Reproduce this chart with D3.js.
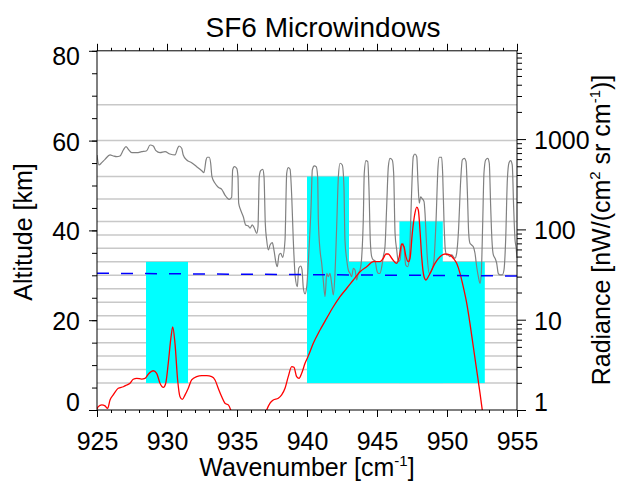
<!DOCTYPE html>
<html>
<head>
<meta charset="utf-8">
<script src="https://cdn.jsdelivr.net/npm/d3@7"></script>
<style>
  body { margin: 0; background: #fff; }
  svg { display: block; font-family: "Liberation Sans", Arial, Helvetica, sans-serif; }
</style>
</head>
<body>
<div id="chart"></div>
<script>
// retrieval altitude grid (km)
var gridAlt = [6, 9, 12, 15, 18, 21, 24, 27, 30, 33, 36, 39, 42, 47, 52, 60, 68];

// microwindows: wavenumber range and altitude range
var winStart = [928.5, 940.0, 943.0, 946.6];
var winEnd = [931.5, 943.0, 952.7, 949.7];
var winBottom = [6, 6, 6, 6];
var winTop = [33, 52, 33, 42];

// dashed line (altitude)
var dashWn = [925, 955];
var dashAlt = [30.45, 29.85];

// total radiance spectrum (grey)
var grayWn = [925.0, 925.14, 925.34, 925.57, 925.93, 926.16, 926.41, 926.64, 926.88, 927.07,
  927.24, 927.48, 927.84, 928.19, 928.55, 928.79, 929.02, 929.21, 929.5, 929.86,
  930.21, 930.57, 930.76, 930.86, 931.05, 931.16, 931.41, 931.76, 932.12, 932.48,
  932.64, 932.79, 932.88, 933.02, 933.12, 933.21, 933.43, 933.66, 933.91, 934.14,
  934.45, 934.62, 934.69, 934.81, 934.98, 935.07, 935.12, 935.26, 935.45, 935.62,
  935.81, 935.93, 936.09, 936.24, 936.41, 936.5, 936.59, 936.69, 936.84, 936.93,
  937.02, 937.12, 937.24, 937.36, 937.52, 937.64, 937.79, 937.88, 938.0, 938.12,
  938.26, 938.43, 938.55, 938.66, 938.79, 938.91, 939.02, 939.16, 939.31, 939.41,
  939.55, 939.64, 939.74, 939.86, 939.98, 940.14, 940.29, 940.38, 940.52, 940.66,
  940.76, 940.81, 940.93, 941.05, 941.16, 941.29, 941.41, 941.52, 941.64, 941.76,
  941.88, 942.0, 942.12, 942.24, 942.36, 942.52, 942.64, 942.71, 942.84, 942.95,
  943.07, 943.19, 943.31, 943.43, 943.55, 943.66, 943.79, 943.91, 944.02, 944.09,
  944.21, 944.34, 944.43, 944.52, 944.62, 944.74, 944.86, 944.98, 945.09, 945.21,
  945.34, 945.45, 945.57, 945.69, 945.81, 945.93, 946.09, 946.19, 946.29, 946.41,
  946.52, 946.64, 946.76, 946.86, 946.95, 947.05, 947.19, 947.31, 947.38, 947.47,
  947.59, 947.71, 947.84, 947.93, 948.02, 948.12, 948.21, 948.36, 948.43, 948.5,
  948.59, 948.74, 948.91, 949.07, 949.21, 949.36, 949.45, 949.62, 949.69, 949.79,
  949.88, 949.98, 950.09, 950.21, 950.34, 950.45, 950.57, 950.69, 950.81, 950.98,
  951.09, 951.24, 951.36, 951.45, 951.55, 951.64, 951.76, 951.88, 952.0, 952.12,
  952.24, 952.36, 952.45, 952.55, 952.64, 952.76, 952.91, 953.02, 953.12, 953.21,
  953.31, 953.43, 953.55, 953.66, 953.79, 953.95, 954.07, 954.19, 954.31, 954.43,
  954.55, 954.66, 954.76, 954.86, 954.93, 955.0];
var grayRad = [667, 517, 548, 597, 667, 650, 638, 650, 757, 824,
  771, 707, 707, 725, 744, 860, 839, 744, 707, 725,
  684, 667, 791, 839, 791, 667, 587, 548, 495, 447,
  425, 587, 629, 629, 540, 383, 324, 293, 278, 240,
  215, 227, 455, 495, 475, 383, 195, 164, 138, 112,
  109, 103, 112, 103, 90.5, 107, 383, 447, 463, 383,
  117, 76.3, 59.1, 67.2, 71.2, 59.1, 42.1, 38.6, 52.1, 54.4,
  49.1, 76.3, 418, 482, 463, 230, 76.3, 29.9, 23.2, 37.1,
  39.3, 36.1, 22.3, 19.3, 23.2, 59.1, 178, 455, 504, 495,
  383, 127, 59.1, 42.1, 27.5, 18.0, 32.6, 29.9, 32.6, 25.3,
  18.8, 32.6, 107, 383, 540, 517, 297, 76.3, 45.8, 35.5,
  32.6, 29.9, 37.1, 35.5, 27.5, 32.6, 35.5, 49.9, 127, 418,
  577, 562, 273, 76.3, 49.9, 45.8, 45.0, 35.5, 32.6, 32.6,
  38.6, 49.9, 64.3, 178, 495, 613, 587, 418, 90.5, 59.1,
  43.9, 45.8, 64.3, 70.2, 59.1, 40.3, 38.6, 47.9, 90, 250,
  638, 684, 638, 324, 195, 230, 221, 203, 151, 90.5,
  49.9, 32.6, 35.5, 45.8, 117, 495, 629, 629, 418, 117,
  59.1, 52.1, 52.1, 49.9, 52.1, 49.9, 47.9, 54.4, 90.5, 352,
  587, 613, 562, 273, 90.5, 70.2, 67.2, 64.3, 54.4, 38.6,
  29.9, 25.3, 32.6, 117, 418, 587, 613, 540, 178, 76.3,
  52.1, 47.9, 42.1, 32.6, 31.3, 31.3, 35.5, 76.3, 352, 548,
  577, 517, 178, 76.3, 64.3, 48.2];

// SF6 contribution (red)
var redWn = [925.0, 925.09, 925.34, 925.57, 925.76, 925.93, 926.16, 926.52, 926.88, 927.12,
  927.36, 927.59, 927.84, 928.19, 928.43, 928.66, 929.02, 929.26, 929.5, 929.74,
  929.91, 930.09, 930.29, 930.41, 930.57, 930.76, 930.93, 931.09, 931.29, 931.52,
  931.76, 932.12, 932.48, 932.84, 933.19, 933.43, 933.66, 933.91, 934.14, 934.38,
  934.55, 934.71, 935.2, 936.5, 936.93, 937.12, 937.36, 937.59, 937.95, 938.19,
  938.43, 938.66, 938.91, 939.07, 939.26, 939.43, 939.62, 939.86, 940.09, 940.45,
  940.93, 941.41, 941.88, 942.36, 942.84, 943.31, 943.79, 944.26, 944.74, 945.21,
  945.45, 945.64, 945.81, 946.05, 946.41, 946.59, 946.76, 946.93, 947.07, 947.24,
  947.36, 947.52, 947.71, 947.84, 947.95, 948.07, 948.19, 948.36, 948.5, 948.66,
  948.91, 949.14, 949.5, 949.86, 950.21, 950.45, 950.69, 950.93, 951.16, 951.41,
  951.64, 951.88, 952.12, 952.36, 952.52, 952.64];
var redRad = [1.02, 1.09, 1.14, 1.11, 1.04, 1.29, 1.47, 1.74, 1.81, 1.89,
  1.98, 2.19, 2.24, 2.20, 2.24, 2.49, 2.72, 2.55, 1.98, 1.78,
  1.98, 3.29, 6.48, 8.30, 5.48, 2.15, 1.40, 1.31, 1.47, 1.74,
  2.15, 2.34, 2.40, 2.40, 2.34, 2.15, 1.74, 1.40, 1.19, 1.14,
  1.0, 0.82, 0.4, 0.4, 0.82, 1.0, 1.19, 1.29, 1.35, 1.47,
  1.74, 2.34, 3.02, 2.97, 2.34, 2.24, 2.55, 3.29, 3.96, 5.48,
  7.69, 10.4, 13.9, 18.0, 22.3, 27.5, 34.0, 38.6, 43.9, 43.9,
  47.9, 53.4, 53.4, 47.9, 42.1, 49.9, 68.9, 64.3, 49.9, 43.9,
  47.9, 90.5, 151, 176, 164, 98.5, 49.9, 29.9, 27.5, 29.9,
  35.5, 42.1, 49.9, 53.4, 52.1, 47.9, 42.1, 32.6, 23.2, 15.2,
  9.12, 5.02, 2.77, 1.53, 1.0, 0.77];

var xTicks = [925, 930, 935, 940, 945, 950, 955];
var altTicks = [0, 20, 40, 60, 80];
var radTicks = [1, 10, 100, 1000];

var W = 622, H = 481;
var m = {left: 97, right: 517, top: 50.8, bottom: 410};
var fontSize = 25;

var svg = d3.select("#chart").append("svg")
  .attr("width", W)
  .attr("height", H);

var x = d3.scaleLinear().domain([925, 955]).range([m.left, m.right]);
var yAlt = d3.scaleLinear().domain([0, 80]).range([m.bottom, m.top]);
var yRad = d3.scaleLog().domain([1, 9500]).range([m.bottom, m.top]);

svg.append("clipPath").attr("id", "plotclip")
  .append("rect")
  .attr("x", m.left).attr("y", m.top)
  .attr("width", m.right - m.left).attr("height", m.bottom - m.top);

// grid lines
svg.append("g").selectAll("line")
  .data(gridAlt)
  .join("line")
  .attr("x1", m.left).attr("x2", m.right)
  .attr("y1", function(d){ return yAlt(d); })
  .attr("y2", function(d){ return yAlt(d); })
  .attr("stroke", "#c8c8c8")
  .attr("stroke-width", 1.5);

// microwindows
svg.append("g").selectAll("rect")
  .data(d3.range(winStart.length))
  .join("rect")
  .attr("x", function(i){ return x(winStart[i]); })
  .attr("width", function(i){ return x(winEnd[i]) - x(winStart[i]); })
  .attr("y", function(i){ return yAlt(winTop[i]); })
  .attr("height", function(i){ return yAlt(winBottom[i]) - yAlt(winTop[i]); })
  .attr("fill", "#00ffff");

var plot = svg.append("g").attr("clip-path", "url(#plotclip)");

var radLine = d3.line()
  .curve(d3.curveMonotoneX)
  .x(function(d){ return x(d[0]); })
  .y(function(d){ return yRad(d[1]); });

plot.append("path")
  .attr("d", radLine(d3.zip(grayWn, grayRad)))
  .attr("fill", "none")
  .attr("stroke", "#808080")
  .attr("stroke-width", 1.2);

plot.append("path")
  .attr("d", radLine(d3.zip(redWn, redRad)))
  .attr("fill", "none")
  .attr("stroke", "#ff0000")
  .attr("stroke-width", 1.3);

var altLine = d3.line()
  .x(function(d){ return x(d[0]); })
  .y(function(d){ return yAlt(d[1]); });

plot.append("path")
  .attr("d", altLine(d3.zip(dashWn, dashAlt)))
  .attr("fill", "none")
  .attr("stroke", "#0000ff")
  .attr("stroke-width", 1.5)
  .attr("stroke-dasharray", "12,12");

// frame
svg.append("rect")
  .attr("x", m.left).attr("y", m.top)
  .attr("width", m.right - m.left).attr("height", m.bottom - m.top)
  .attr("fill", "none")
  .attr("stroke", "#000")
  .attr("stroke-width", 1);

function styleAxis(g){
  g.select(".domain").remove();
  g.selectAll("line").attr("stroke", "#000");
  g.selectAll("text")
    .attr("fill", "#000")
    .style("font-size", fontSize + "px")
    .style("font-family", "\"Liberation Sans\", Arial, Helvetica, sans-serif");
}

// bottom axis
svg.append("g")
  .attr("transform", "translate(0," + m.bottom + ")")
  .call(d3.axisBottom(x).tickValues(d3.range(925, 956, 1)).tickSize(3).tickFormat(""))
  .call(styleAxis);
svg.append("g")
  .attr("transform", "translate(0," + m.bottom + ")")
  .call(d3.axisBottom(x).tickValues(xTicks).tickSize(7).tickFormat(d3.format("d")))
  .call(styleAxis)
  .selectAll("text").attr("y", 40).attr("dy", null);

// top axis
svg.append("g")
  .attr("transform", "translate(0," + m.top + ")")
  .call(d3.axisTop(x).tickValues(d3.range(925, 956, 1)).tickSize(3).tickFormat(""))
  .call(styleAxis);
svg.append("g")
  .attr("transform", "translate(0," + m.top + ")")
  .call(d3.axisTop(x).tickValues(xTicks).tickSize(7).tickFormat(""))
  .call(styleAxis);

// left axis (altitude)
svg.append("g")
  .attr("transform", "translate(" + m.left + ",0)")
  .call(d3.axisLeft(yAlt).tickValues(d3.range(0, 81, 5)).tickSize(5).tickFormat(""))
  .call(styleAxis);
svg.append("g")
  .attr("transform", "translate(" + m.left + ",0)")
  .call(d3.axisLeft(yAlt).tickValues(altTicks).tickSize(8).tickPadding(9))
  .call(styleAxis)
  .selectAll("text")
  .attr("dy", function(d){ return d === 0 ? "0em" : (d === 80 ? "0.56em" : "0.38em"); });

// right axis (radiance, log)
var radMinor = [];
[1, 10, 100, 1000].forEach(function(p){
  for(var k = 2; k <= 9; k++){ if(k * p <= 9500) radMinor.push(k * p); }
});
svg.append("g")
  .attr("transform", "translate(" + m.right + ",0)")
  .call(d3.axisRight(yRad).tickValues(radMinor).tickSize(5).tickFormat(""))
  .call(styleAxis);
svg.append("g")
  .attr("transform", "translate(" + m.right + ",0)")
  .call(d3.axisRight(yRad).tickValues(radTicks).tickSize(9).tickPadding(8).tickFormat(d3.format("d")))
  .call(styleAxis)
  .selectAll("text")
  .attr("dy", function(d){ return d === 1 ? "0em" : "0.38em"; });

// titles
svg.append("text")
  .attr("x", 323).attr("y", 37)
  .attr("text-anchor", "middle")
  .style("font-size", "28px")
  .text("SF6 Microwindows");

var xt = svg.append("text")
  .attr("x", (m.left + m.right) / 2).attr("y", 476)
  .attr("text-anchor", "middle")
  .style("font-size", fontSize + "px");
xt.append("tspan").text("Wavenumber [cm");
xt.append("tspan").attr("dy", -10).style("font-size", "15px").text("-1");
xt.append("tspan").attr("dy", 10).text("]");

svg.append("text")
  .attr("transform", "translate(32,232) rotate(-90)")
  .attr("text-anchor", "middle")
  .style("font-size", fontSize + "px")
  .text("Altitude [km]");

var rt = svg.append("text")
  .attr("transform", "translate(610,230) rotate(-90)")
  .attr("text-anchor", "middle")
  .style("font-size", fontSize + "px");
rt.append("tspan").text("Radiance [nW/(cm");
rt.append("tspan").attr("dy", -10).style("font-size", "15px").text("2");
rt.append("tspan").attr("dy", 10).text(" sr cm");
rt.append("tspan").attr("dy", -10).style("font-size", "15px").text("-1");
rt.append("tspan").attr("dy", 10).text(")]");
</script>
</body>
</html>
